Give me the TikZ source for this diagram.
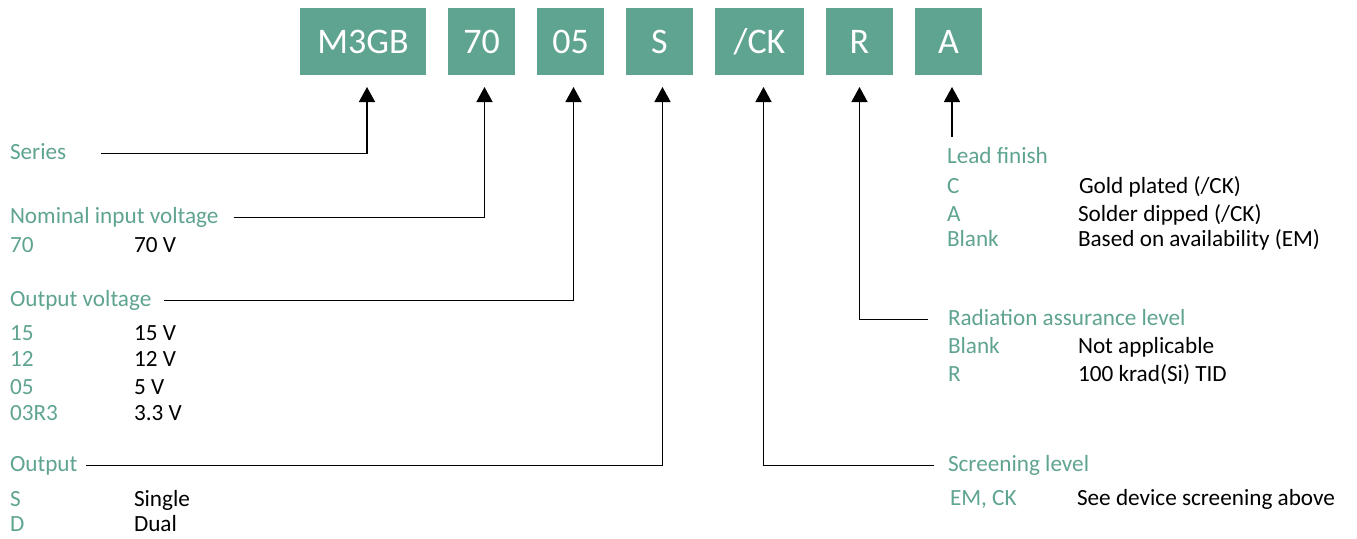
\documentclass[tikz,border=0pt]{standalone}
\usepackage{fontspec}
\setmainfont{Carlito}
\usepackage{xcolor}
\usetikzlibrary{arrows.meta,positioning}
\definecolor{partgreen}{RGB}{95,163,145}

\begin{document}
\begin{tikzpicture}[x=1pt,y=-1pt,->,>={Triangle[length=15pt,width=16pt]},
                    shorten >=12pt,line width=1.5pt,node distance=22pt]
  \tikzstyle{every node}=[inner sep=0pt,outer sep=0pt]
  \tikzstyle{field}=[fill=partgreen,text=white,minimum width=67pt,
                     minimum height=67pt,font=\fontsize{36}{36}\selectfont]
  \tikzstyle{head}=[anchor=base west,text=partgreen,text height=14pt,
                    text depth=3pt,font=\fontsize{23.2}{26}\selectfont]
  \tikzstyle{code}=[head]
  \tikzstyle{meaning}=[head,text=black]

  \useasboundingbox (0,0) rectangle (1357,538);

  % part number fields
  \node[field, minimum width=126pt] (m3gb) at (363,41.5) {M3GB};
  \node[field]         (vin)  [right=of m3gb] {70};
  \node[field]         (vout) [right=of vin]  {05};
  \node[field]         (outp) [right=of vout] {S};
  \node[field, minimum width=89pt] (scr) [right=of outp] {/CK};
  \node[field]         (rad)  [right=of scr]  {R};
  \node[field]         (lead) [right=of rad]  {A};

  % left column
  \node[head]    (series)  at (10,159) {Series};
  \node[head]    (nominal) at (10,223) {Nominal input voltage};
  \node[code]    (c70)     at (10,252) {70};
  \node[meaning] (m70)     at (134,252) {70 V};
  \node[head]    (outvolt) at (10,306) {Output voltage};
  \node[code]    (c15)     at (10,340) {15};
  \node[meaning] (m15)     at (134,340) {15 V};
  \node[code]    (c12)     at (10,366) {12};
  \node[meaning] (m12)     at (134,366) {12 V};
  \node[code]    (c05)     at (10,394) {05};
  \node[meaning] (m05)     at (134,394) {5 V};
  \node[code]    (c03)     at (10,420) {03R3};
  \node[meaning] (m03)     at (134,420) {3.3 V};
  \node[head]    (output)  at (10,471) {Output};
  \node[code]    (cS)      at (10,506) {S};
  \node[meaning] (mS)      at (134,506) {Single};
  \node[code]    (cD)      at (10,531) {D};
  \node[meaning] (mD)      at (134,531) {Dual};

  % right column
  \node[head]    (leadfin) at (947,163) {Lead finish};
  \node[code]    (cC)      at (947,193) {C};
  \node[meaning] (mC)      at (1079,193) {Gold plated (/CK)};
  \node[code]    (cA)      at (947,221) {A};
  \node[meaning] (mA)      at (1078,221) {Solder dipped (/CK)};
  \node[code]    (cBl)     at (947,246) {Blank};
  \node[meaning] (mBl)     at (1078,246) {Based on availability (EM)};
  \node[head]    (radlvl)  at (948,325) {Radiation assurance level};
  \node[code]    (cNa)     at (948,353) {Blank};
  \node[meaning] (mNa)     at (1078,353) {Not applicable};
  \node[code]    (cR)      at (948,381) {R};
  \node[meaning] (mR)      at (1078,381) {100 krad(Si) TID};
  \node[head]    (screen)  at (948,471) {Screening level};
  \node[code]    (cEM)     at (950,505) {EM, CK};
  \node[meaning] (mEM)     at (1077,505) {See device screening above};

  \coordinate (leadfoot) at ([xshift=5pt,yshift=12pt]leadfin.north west);

  \draw ([xshift=35pt]series.east)  -| ([xshift=4pt]m3gb.south);
  \draw ([xshift=15pt]nominal.east) -| ([xshift=3pt]vin.south);
  \draw ([xshift=13pt]outvolt.east) -| ([xshift=3pt]vout.south);
  \draw ([xshift=9pt]output.east)   -| ([xshift=3pt]outp.south);
  \draw ([xshift=-14pt]screen.west) -| ([xshift=4pt]scr.south);
  \draw ([xshift=-20pt]radlvl.west) -| (rad.south);
  \draw (leadfoot) -- (leadfoot |- lead.south);
\end{tikzpicture}
\end{document}
